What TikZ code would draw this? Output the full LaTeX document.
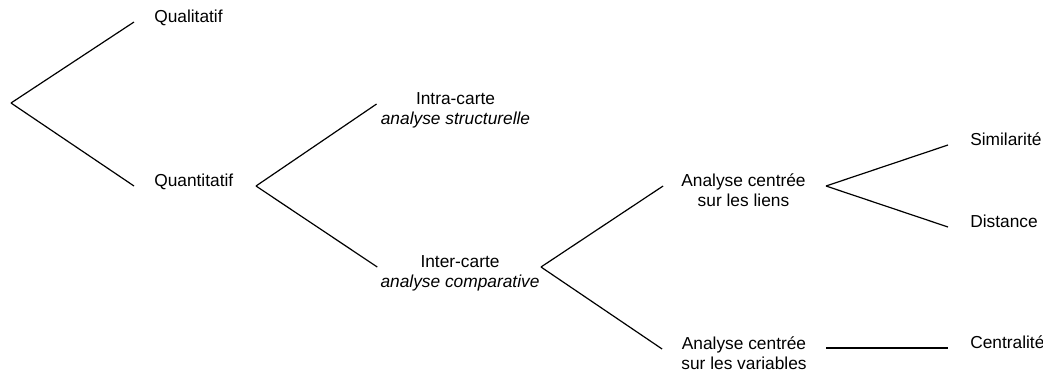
\documentclass[tikz,border=0pt]{standalone}
\usepackage{fontspec}
\setmainfont{Liberation Sans}
\usepackage{tikz}
\usetikzlibrary{positioning,calc}

\begin{document}
\begin{tikzpicture}[
  x=0.75pt, y=-0.75pt,
  leaf/.style={inner sep=0pt, anchor=base west,
    font=\fontsize{13}{15}\selectfont},
  mid/.style={inner sep=0pt, anchor=base, align=center,
    font=\fontsize{13}{15}\selectfont},
  branch/.style={line width=0.9pt, color=black},
]
  \useasboundingbox (0,0) rectangle (1043,376);

  % branching points
  \coordinate (root) at (11,103);
  \coordinate (quantfork) at (256,186);
  \coordinate (interfork) at (541,267);
  \coordinate (liensfork) at (826,186);
  \coordinate (varsfork) at (826,348);

  % base of a two-line node is its second line
  \node[leaf] (qual) at (154,22.5) {Qualitatif};
  \node[leaf] (quant) at (154,186.5) {Quantitatif};
  \node[mid] (intra) at (455.5,124.5) {Intra-carte\\\textit{analyse structurelle}};
  \node[mid] (inter) at (460,287.5) {Inter-carte\\\textit{analyse comparative}};
  \node[mid] (liens) at (743.5,206.5) {Analyse centrée\\sur les liens};
  \node[mid] (vars) at (744,369) {Analyse centrée\\sur les variables};
  \node[leaf] (simil) at (970,145.5) {Similarité};
  \node[leaf] (dist) at (970,227) {Distance};
  \node[leaf] (centr) at (970,348.5) {Centralité};

  \draw[branch] (root) -- ($(qual.base west)+(-20,-0.5)$);
  \draw[branch] (root) -- ($(quant.base west)+(-20,-0.5)$);
  \draw[branch] (quantfork) -- ($(intra.base west)+(-4,-20.5)$);
  \draw[branch] (quantfork) -- ($(inter.base west)+(-3,-20.5)$);
  \draw[branch] (interfork) -- ($(liens.base west)+(-18,-20.5)$);
  \draw[branch] (interfork) -- ($(vars.base west)+(-19,-20)$);
  \draw[branch] (liensfork) -- ($(simil.base west)+(-22,-0.5)$);
  \draw[branch] (liensfork) -- ($(dist.base west)+(-22,0)$);
  \draw[branch] (varsfork) -- ($(centr.base west)+(-22,-0.5)$);
\end{tikzpicture}
\end{document}
